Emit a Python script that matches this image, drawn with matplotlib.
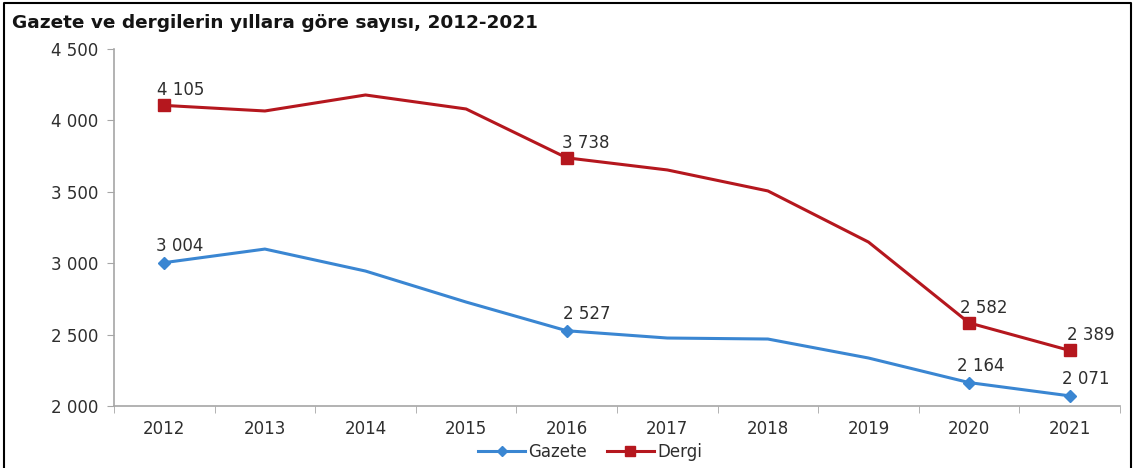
import numpy as np
import matplotlib.pyplot as plt
from matplotlib.lines import Line2D

plt.rcParams['font.family'] = ['DejaVu Sans']

years = ['2012', '2013', '2014', '2015', '2016', '2017', '2018', '2019', '2020', '2021']
gazete = [3004, 3099, 2945, 2728, 2527, 2476, 2469, 2336, 2164, 2071]
dergi = [4105, 4066, 4178, 4080, 3738, 3653, 3506, 3148, 2582, 2389]
labeled = [0, 4, 8, 9]

# horizontal nudge (pixels) for each value label
gazete_dx = {0: -8, 4: -4, 8: -12, 9: -8}
dergi_dx = {0: -7, 4: -5, 8: -9, 9: -3}

blue = '#3a86d2'
red = '#b5171e'
axcol = '#a6a6a6'
txt = '#2e2e2e'

fig = plt.figure(figsize=(11.34, 4.68), dpi=100)
ax = fig.add_axes([114 / 1134, 62 / 468, 1006 / 1134, 357 / 468])

x = np.arange(len(years))
ax.plot(x, gazete, color=blue, lw=2.2, marker='D', ms=6, markevery=labeled, zorder=3)
ax.plot(x, dergi, color=red, lw=2.2, marker='s', ms=9, markevery=labeled, zorder=3)

def fmt(v):
    return f'{v:,}'.replace(',', ' ')

for i in labeled:
    ax.annotate(fmt(gazete[i]), (x[i], gazete[i]), xytext=(gazete_dx[i], 8), textcoords='offset pixels',
                ha='left', va='bottom', fontsize=12, color=txt)
    ax.annotate(fmt(dergi[i]), (x[i], dergi[i]), xytext=(dergi_dx[i], 6), textcoords='offset pixels',
                ha='left', va='bottom', fontsize=12, color=txt)

ax.set_xlim(-0.5, len(years) - 0.5)
ax.set_ylim(2000, 4500)
ax.set_yticks(np.arange(2000, 4501, 500))
ax.set_yticklabels([fmt(v) for v in range(2000, 4501, 500)], fontsize=12, color=txt)
ax.set_xticks(x)
ax.set_xticklabels(years, fontsize=12, color=txt)
ax.set_xticks(np.arange(-0.5, len(years)), minor=True)
ax.tick_params(axis='x', which='major', length=0, pad=10)
ax.tick_params(axis='x', which='minor', length=5, color=axcol, direction='out')
ax.tick_params(axis='y', length=5, color=axcol, pad=6)

for s in ['top', 'right']:
    ax.spines[s].set_visible(False)
for s in ['left', 'bottom']:
    ax.spines[s].set_color(axcol)
    ax.spines[s].set_linewidth(1.2)

fig.text(12 / 1134, 1 - 23 / 468, 'Gazete ve dergilerin yıllara göre sayısı, 2012-2021',
         fontsize=13.3, fontweight='bold', va='center', ha='left', color='#141414')

handles = [Line2D([], [], color=blue, lw=2.2, marker='D', ms=5),
           Line2D([], [], color=red, lw=2.2, marker='s', ms=7)]
fig.legend(handles, ['Gazete', 'Dergi'], loc='center', bbox_to_anchor=(590 / 1134, 1 - 452 / 468),
           ncol=2, frameon=False, fontsize=12, handlelength=2.8, handletextpad=0.2, columnspacing=1.2,
           labelcolor=txt)

# outer frame
fig.add_artist(Line2D([4 / 1134, 4 / 1134, 1131 / 1134, 1131 / 1134], [0, 1 - 3 / 468, 1 - 3 / 468, 0],
                      transform=fig.transFigure, color='black', lw=1.5))

fig.savefig('out.png', dpi=100)
